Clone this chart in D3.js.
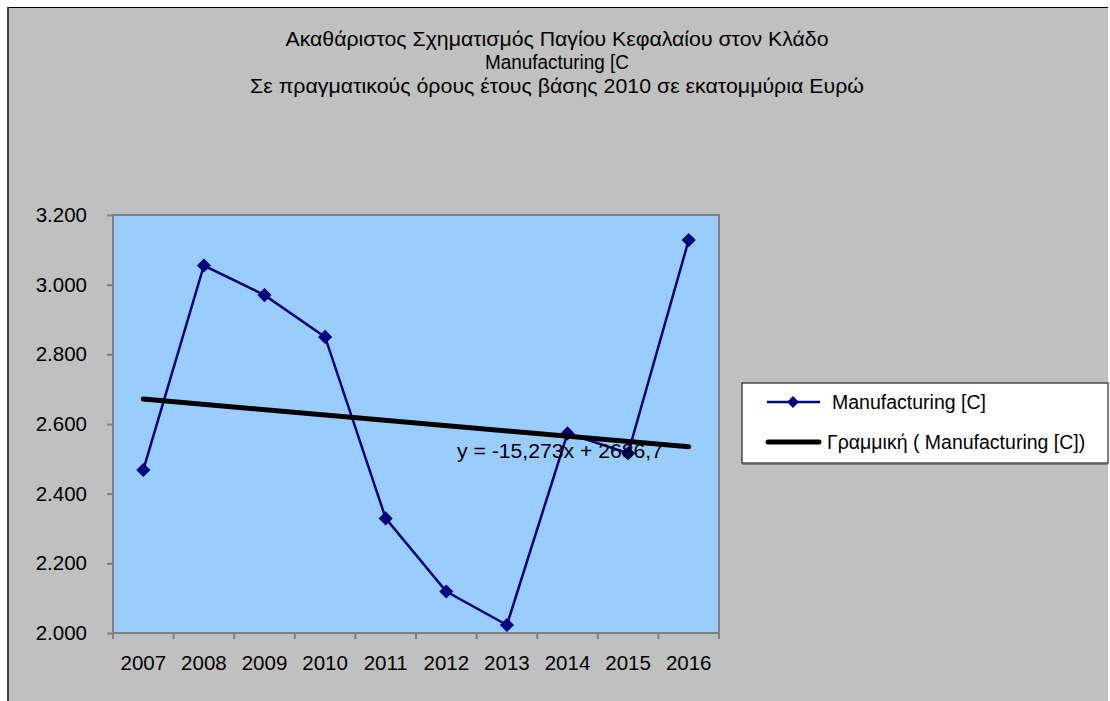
<!DOCTYPE html>
<html><head><meta charset="utf-8">
<script src="https://cdn.jsdelivr.net/npm/d3@7"></script>
<style>body{margin:0;background:#fff}svg{display:block}text{font-family:"Liberation Sans",Arial,sans-serif;fill:#000}</style>
</head><body>
<svg id="c" width="1110" height="701"></svg>
<script>
const years = ["2007","2008","2009","2010","2011","2012","2013","2014","2015","2016"];
const values = [2468, 3055, 2970, 2850, 2329, 2119, 2023, 2573, 2516, 3128];
const yTicks = [2000, 2200, 2400, 2600, 2800, 3000, 3200];
const titleLines = ["Ακαθάριστος Σχηματισμός Παγίου Κεφαλαίου στον Κλάδο","Manufacturing [C","Σε πραγματικούς όρους έτους βάσης 2010 σε εκατομμύρια Ευρώ"];
const seriesName = "Manufacturing [C]";
const trendName = "Γραμμική ( Manufacturing [C])";
const equationLabel = "y = -15,273x + 2686,7";

const svg = d3.select("#c");
// chart area
svg.append("rect").attr("x",7).attr("y",7).attr("width",1101).attr("height",700).attr("fill","#c0c0c0");
svg.append("line").attr("x1",7).attr("x2",1108).attr("y1",7.5).attr("y2",7.5).attr("stroke","#000").attr("stroke-width",1);
svg.append("line").attr("x1",8).attr("x2",8).attr("y1",7).attr("y2",701).attr("stroke","#404040").attr("stroke-width",2);

// title
const tl = [{w:543,y:46},{w:144,y:69},{w:614,y:93}];
titleLines.forEach((t,i)=>{
  svg.append("text").attr("x",557).attr("y",tl[i].y).attr("text-anchor","middle")
    .attr("font-size",20.5).attr("textLength",tl[i].w).attr("lengthAdjust","spacingAndGlyphs").text(t);
});

const L=113, R=719, T=215, B=633;
const x = d3.scaleBand().domain(years).range([L,R]);
const y = d3.scaleLinear().domain([2000,3200]).range([B,T]);

svg.append("rect").attr("x",L).attr("y",T).attr("width",R-L).attr("height",B-T)
  .attr("fill","#99ccff").attr("stroke","#808080").attr("stroke-width",2);

const yAxis = svg.append("g").attr("transform",`translate(${L},0)`)
  .call(d3.axisLeft(y).tickValues(yTicks).tickSize(6).tickPadding(20)
    .tickFormat(d=>d3.format(",")(d).replace(",",".")));
const xAxis = svg.append("g").attr("transform",`translate(0,${B})`)
  .call(d3.axisBottom(x).tickSize(0).tickPadding(22));
// band-edge ticks for x
svg.append("g").selectAll("line").data(years.concat(["end"])).join("line")
  .attr("x1",(d,i)=>i<years.length?x(d):R).attr("x2",(d,i)=>i<years.length?x(d):R)
  .attr("y1",B).attr("y2",B+6).attr("stroke","#808080").attr("stroke-width",2);
[yAxis,xAxis].forEach(g=>{
  g.select(".domain").attr("stroke","#808080").attr("stroke-width",2);
  g.selectAll(".tick line").attr("stroke","#808080").attr("stroke-width",2);
  g.selectAll("text").attr("font-size",20.5).attr("font-family","Liberation Sans, Arial, sans-serif").attr("fill","#000");
});
xAxis.select(".domain").attr("d",`M${L},0H${R}`);
yAxis.select(".domain").attr("d",`M0,${T}V${B}`);

const cx = d=>x(d)+x.bandwidth()/2;

// regression
const n=values.length, xs=values.map((v,i)=>i+1);
const mx=d3.mean(xs), my=d3.mean(values);
const slope=d3.sum(xs.map((xi,i)=>(xi-mx)*(values[i]-my)))/d3.sum(xs.map(xi=>(xi-mx)**2));
const icpt=my-slope*mx;
const trend=[years[0],years[n-1]].map((yr,j)=>({yr,v:icpt+slope*(j?n:1)}));

// series
svg.append("path").datum(years.map((yr,i)=>({yr,v:values[i]})))
  .attr("fill","none").attr("stroke","#000080").attr("stroke-width",2.5)
  .attr("d",d3.line().x(d=>cx(d.yr)).y(d=>y(d.v)));
svg.append("g").selectAll("path").data(values).join("path")
  .attr("d",d3.symbol(d3.symbolSquare,100)())
  .attr("transform",(v,i)=>`translate(${cx(years[i])},${y(v)}) rotate(45)`)
  .attr("fill","#000080");

svg.append("path").datum(trend).attr("fill","none").attr("stroke","#000").attr("stroke-width",5)
  .attr("stroke-linecap","round")
  .attr("d",d3.line().x(d=>cx(d.yr)).y(d=>y(d.v)));

svg.append("text").attr("x",457).attr("y",458).attr("font-size",20.5)
  .attr("textLength",206).attr("lengthAdjust","spacingAndGlyphs").text(equationLabel);

// legend
svg.append("rect").attr("x",742).attr("y",383).attr("width",366).attr("height",80)
  .attr("fill","#fff").attr("stroke","#000").attr("stroke-width",1);
svg.append("line").attr("x1",742).attr("x2",1108).attr("y1",464.5).attr("y2",464.5).attr("stroke","#808080").attr("stroke-width",1);
svg.append("line").attr("x1",767).attr("x2",820).attr("y1",402).attr("y2",402).attr("stroke","#000080").attr("stroke-width",2.5);
svg.append("path").attr("d",d3.symbol(d3.symbolSquare,70)()).attr("transform","translate(793,402) rotate(45)").attr("fill","#000080");
svg.append("text").attr("x",832).attr("y",409).attr("font-size",19.5).text(seriesName);
svg.append("line").attr("x1",768).attr("x2",819).attr("y1",442).attr("y2",442).attr("stroke","#000").attr("stroke-width",5).attr("stroke-linecap","round");
svg.append("text").attr("x",827).attr("y",449).attr("font-size",19.5).text(trendName);
</script>
</body></html>
